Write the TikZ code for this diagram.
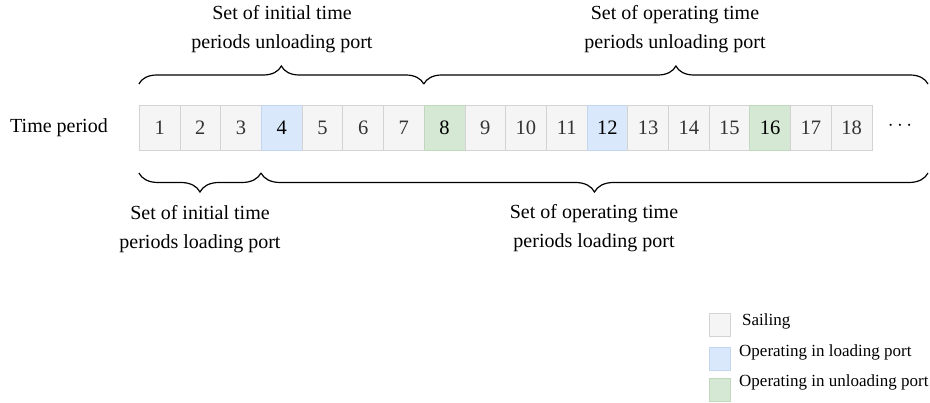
\documentclass[tikz,border=0pt]{standalone}
\usepackage{fontspec}
\setmainfont{Liberation Serif}
\usetikzlibrary{decorations.pathreplacing}
\definecolor{sailfill}{HTML}{F5F5F5}
\definecolor{saildraw}{HTML}{D3D3D3}
\definecolor{loadfill}{HTML}{DAE8FC}
\definecolor{loaddraw}{HTML}{C4D6EE}
\definecolor{unlfill}{HTML}{D5E8D4}
\definecolor{unldraw}{HTML}{BFD8BE}
\tikzset{
  cell/.style={draw=saildraw, fill=sailfill, line width=0.8pt, minimum width=40.7pt, minimum height=45pt, inner sep=0pt, font=\fontsize{20.5}{22}\selectfont, text=black!80},
  sail/.style={cell},
  loadc/.style={cell, fill=loadfill, draw=loaddraw, text=black},
  unlc/.style={cell, fill=unlfill, draw=unldraw, text=black},
  lbl/.style={align=center, font=\fontsize{20}{29}\selectfont},
  bracetop/.style={draw, line width=1.2pt, decorate, decoration={brace, amplitude=18pt}},
  bracebot/.style={draw, line width=1.2pt, decorate, decoration={brace, amplitude=19pt, mirror}},
  legbox/.style={minimum width=21pt, minimum height=23pt, inner sep=0pt, line width=0.8pt},
  legtxt/.style={anchor=west, font=\fontsize{17}{20}\selectfont, inner sep=0pt}
}
\begin{document}
\begin{tikzpicture}[x=1pt, y=-1pt]
\useasboundingbox (0,0) rectangle (930,403);
\foreach \i in {1,...,18} {
  \pgfmathsetmacro{\cx}{139.3+20.35+(\i-1)*40.7}
  \ifnum\i=4 \def\st{loadc}\else
  \ifnum\i=12 \def\st{loadc}\else
  \ifnum\i=8 \def\st{unlc}\else
  \ifnum\i=16 \def\st{unlc}\else
  \def\st{sail}\fi\fi\fi\fi
  \node[\st] (c\i) at (\cx,128) {\i};
}
\node[font=\fontsize{20}{22}\selectfont] (dots) at (900,126) {$\cdots$};
\node[font=\fontsize{20}{22}\selectfont] (tp) at (59,128) {Time period};

% top braces
\coordinate (t1) at (c1.west |- 0,84);
\coordinate (t2) at (c8.west |- 0,84);
\coordinate (t3) at (928,84);
\draw[bracetop] (t1) -- (t2);
\draw[bracetop] (t2) -- (t3);
% bottom braces
\coordinate (b1) at (c1.west |- 0,173);
\coordinate (b2) at (c4.west |- 0,173);
\coordinate (b3) at (928,173);
\draw[bracebot] (b1) -- (b2);
\draw[bracebot] (b2) -- (b3);

\node[lbl] (l1) at (282,29) {Set of initial time\\periods unloading port};
\node[lbl] (l2) at (675,29) {Set of operating time\\periods unloading port};
\node[lbl] (l3) at (200,229) {Set of initial time\\periods loading port};
\node[lbl] (l4) at (594,228) {Set of operating time\\ periods loading port};

% legend
\node[legbox, draw=saildraw, fill=sailfill] (k1) at (719.5,324.5) {};
\node[legbox, draw=loaddraw, fill=loadfill] (k2) at (719.5,358.5) {};
\node[legbox, draw=unldraw, fill=unlfill] (k3) at (719.5,389.5) {};
\node[legtxt] (s1) at (742,321) {Sailing};
\node[legtxt] (s2) at (739,352) {Operating in loading port};
\node[legtxt] (s3) at (739,382) {Operating in unloading port};
\end{tikzpicture}
\end{document}
